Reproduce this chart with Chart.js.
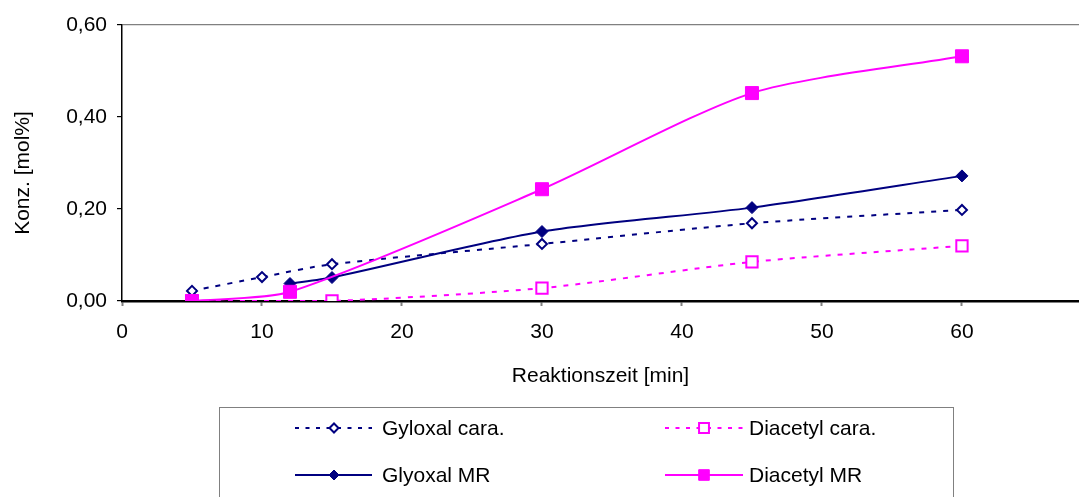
<!DOCTYPE html>
<html><head><meta charset="utf-8">
<script src="https://cdn.jsdelivr.net/npm/chart.js@4/dist/chart.umd.min.js"></script>
<style>html,body{margin:0;padding:0;background:#fff}#wrap{width:1079px;height:497px;position:relative}</style>
</head><body><div id="wrap"><canvas id="c" width="1079" height="497"></canvas></div>
<script>
const seriesNames = ['Gyloxal cara.', 'Diacetyl cara.', 'Glyoxal MR', 'Diacetyl MR'];
const gyloxalCaraX = [5, 10, 15, 30, 45, 60];
const gyloxalCaraY = [0.022, 0.052, 0.080, 0.124, 0.169, 0.198];
const diacetylCaraX = [5, 15, 30, 45, 60];
const diacetylCaraY = [0, 0, 0.028, 0.085, 0.120];
const glyoxalMRX = [12, 15, 30, 45, 60];
const glyoxalMRY = [0.038, 0.051, 0.151, 0.203, 0.272];
const diacetylMRX = [5, 12, 30, 45, 60];
const diacetylMRY = [0, 0.020, 0.243, 0.452, 0.532];
const xTicks = [0, 10, 20, 30, 40, 50, 60];
const yTicks = [0, 0.2, 0.4, 0.6];
const xTitle = 'Reaktionszeit [min]';
const yTitle = 'Konz. [mol%]';

const NAVY = '#000080', MAG = '#FF00FF';
const FONT = {family: "'Liberation Sans', Arial, sans-serif", size: 21, lineHeight: '24px'};
const toPts = (xs, ys) => xs.map((x, i) => ({x: x, y: ys[i]}));

const datasets = [
  {label: seriesNames[0], data: toPts(gyloxalCaraX, gyloxalCaraY), borderColor: NAVY, borderWidth: 2, borderDash: [5, 7],
   pointStyle: 'rectRot', pointRadius: 5, pointBorderWidth: 2, pointBackgroundColor: '#fff', pointBorderColor: NAVY, order: 3,
   legendDash: [4, 6.5], legendRadius: 4.5},
  {label: seriesNames[1], data: toPts(diacetylCaraX, diacetylCaraY), borderColor: MAG, borderWidth: 2, borderDash: [5, 7],
   pointStyle: 'rect', pointRadius: 8, pointBorderWidth: 2, pointBackgroundColor: '#fff', pointBorderColor: MAG, order: 2,
   legendDash: [4, 6.5], legendRadius: 7},
  {label: seriesNames[2], data: toPts(glyoxalMRX, glyoxalMRY), borderColor: NAVY, borderWidth: 2,
   pointStyle: 'rectRot', pointRadius: 6, pointBorderWidth: 1, pointBackgroundColor: NAVY, pointBorderColor: NAVY, order: 1,
   legendDash: [], legendRadius: 5},
  {label: seriesNames[3], data: toPts(diacetylMRX, diacetylMRY), borderColor: MAG, borderWidth: 2,
   pointStyle: 'rect', pointRadius: 9.2, pointBorderWidth: 1, pointBackgroundColor: MAG, pointBorderColor: MAG, order: 0,
   legendDash: [], legendRadius: 7.5}
];
datasets.forEach(d => { d.tension = 0.25; d.fill = false; d.pointHoverRadius = d.pointRadius; });

const fontStr = FONT.size + 'px ' + FONT.family;

function drawMarker(ctx, style, r, x, y, fillC, strokeC, bw) {
  ctx.save();
  ctx.setLineDash([]);
  ctx.beginPath();
  if (style === 'rectRot') {
    ctx.moveTo(x - r, y); ctx.lineTo(x, y - r); ctx.lineTo(x + r, y); ctx.lineTo(x, y + r); ctx.closePath();
  } else {
    const s = Math.SQRT1_2 * r;
    ctx.rect(x - s, y - s, 2 * s, 2 * s);
  }
  ctx.fillStyle = fillC; ctx.fill();
  ctx.lineWidth = bw; ctx.strokeStyle = strokeC; ctx.stroke();
  ctx.restore();
}

const extras = {
  id: 'extras',
  afterDraw(chart) {
    const ctx = chart.ctx;
    ctx.save();
    ctx.font = fontStr; ctx.fillStyle = '#000';
    ctx.translate(23, 173); ctx.rotate(-Math.PI / 2);
    ctx.textAlign = 'center'; ctx.textBaseline = 'middle';
    ctx.fillText(yTitle, 0, 0);
    ctx.restore();
    ctx.save();
    ctx.strokeStyle = '#808080'; ctx.lineWidth = 1;
    ctx.strokeRect(219.5, 407.5, 734, 120);
    const cols = [{l0: 295, l1: 372, m: 334, t: 382}, {l0: 665, l1: 743, m: 704, t: 749}];
    const rows = [428, 475];
    [0, 1, 2, 3].forEach((di, k) => {
      const d = datasets[di];
      const c = cols[k % 2], y = rows[Math.floor(k / 2)];
      ctx.save();
      ctx.strokeStyle = d.borderColor; ctx.lineWidth = 2;
      ctx.setLineDash(d.legendDash);
      ctx.beginPath(); ctx.moveTo(c.l0, y); ctx.lineTo(c.l1, y); ctx.stroke();
      ctx.restore();
      drawMarker(ctx, d.pointStyle, d.legendRadius, c.m, y, d.pointBackgroundColor, d.pointBorderColor, d.pointBorderWidth);
      ctx.font = fontStr; ctx.fillStyle = '#000'; ctx.textAlign = 'left'; ctx.textBaseline = 'middle';
      ctx.fillText(d.label, c.t, y + 1);
    });
    ctx.restore();
  }
};

new Chart(document.getElementById('c'), {
  type: 'line',
  data: {datasets: datasets},
  options: {
    responsive: false,
    animation: false,
    devicePixelRatio: 1,
    layout: {autoPadding: false, padding: {left: 0, top: 25, right: 0, bottom: 105}},
    plugins: {legend: {display: false}, tooltip: {enabled: false}},
    scales: {
      x: {
        type: 'linear', min: 0, max: 68.36,
        afterBuildTicks: s => { s.ticks = xTicks.map(v => ({value: v})); },
        afterFit: s => { s.height = 91; s.paddingRight = 0; s.paddingLeft = 0; },
        ticks: {padding: 14, color: '#000', font: FONT, maxRotation: 0, autoSkip: false, callback: v => String(v)},
        grid: {display: true, drawOnChartArea: false, drawTicks: true, tickLength: 5, tickColor: '#808080', tickWidth: 2},
        border: {display: true, color: '#000', width: 2.5},
        title: {display: true, text: xTitle, color: '#000', font: FONT, padding: {top: 20, bottom: 4}}
      },
      y: {
        type: 'linear', min: 0, max: 0.6,
        afterBuildTicks: s => { s.ticks = yTicks.map(v => ({value: v})); },
        afterFit: s => { s.width = 122; s.paddingTop = 0; s.paddingBottom = 0; },
        ticks: {padding: 10, color: '#000', font: FONT, callback: v => Number(v).toFixed(2).replace('.', ',')},
        grid: {display: true, drawOnChartArea: true, drawTicks: true, tickLength: 5, tickColor: '#000', lineWidth: 1.2,
               color: c => (c.tick && Math.abs(c.tick.value - 0.6) < 1e-9) ? '#808080' : 'rgba(0,0,0,0)'},
        border: {display: true, color: '#000', width: 1.5}
      }
    }
  },
  plugins: [extras]
});
</script>
</body></html>
